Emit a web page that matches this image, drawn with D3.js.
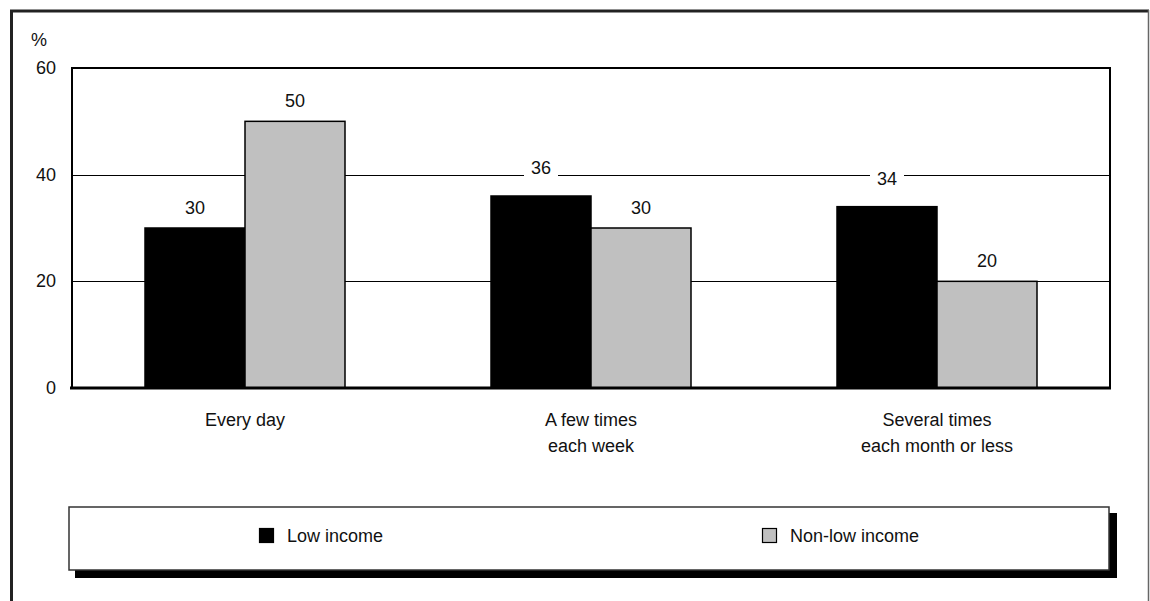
<!DOCTYPE html>
<html><head><meta charset="utf-8">
<script src="https://cdn.jsdelivr.net/npm/d3@7"></script>
<style>body{margin:0;background:#fff}svg{display:block}text{font-family:"Liberation Sans",Arial,sans-serif;fill:#111}</style>
</head><body><svg id="c" width="1150" height="601"></svg>
<script>
const categories = [["Every day"], ["A few times", "each week"], ["Several times", "each month or less"]];
const seriesNames = ["Low income", "Non-low income"];
const lowIncome = [30, 36, 34];
const nonLowIncome = [50, 30, 20];
const yTicks = [0, 20, 40, 60];
const colors = ["#000000", "#c0c0c0"];

const svg = d3.select("#c");
const W = 1150, H = 601;
const m = {l: 72, r: 1110, t: 68, b: 388};
const FS = "18px";

// outer frame
svg.append("line").attr("x1", 11.5).attr("x2", 11.5).attr("y1", 10).attr("y2", H).attr("stroke", "#222").attr("stroke-width", 3);
svg.append("line").attr("x1", 10).attr("x2", 1149).attr("y1", 11).attr("y2", 11).attr("stroke", "#222").attr("stroke-width", 3);
svg.append("line").attr("x1", 1148.5).attr("x2", 1148.5).attr("y1", 10).attr("y2", H).attr("stroke", "#666").attr("stroke-width", 1.5);

const x0 = d3.scaleBand().domain(d3.range(categories.length)).range([m.l, m.r]);
const x1 = d3.scaleBand().domain([0, 1]).range([0, 200]);
const y = d3.scaleLinear().domain([0, 60]).range([m.b, m.t]);
const gridVals = yTicks.filter(d => d > 0 && d < 60);

// gridlines
svg.append("g").selectAll("line").data(gridVals).join("line")
  .attr("x1", m.l).attr("x2", m.r).attr("y1", d => Math.round(y(d)) + 0.5).attr("y2", d => Math.round(y(d)) + 0.5)
  .attr("stroke", "#000").attr("stroke-width", 1);

// plot frame top/left/right
svg.append("path").attr("d", `M${m.l},${m.b}V${m.t}H${m.r}V${m.b}`).attr("fill", "none").attr("stroke", "#000").attr("stroke-width", 2);

// bars
const data = [lowIncome, nonLowIncome];
const groups = svg.append("g").selectAll("g").data(categories).join("g")
  .attr("transform", (d, i) => `translate(${x0(i) + x0.bandwidth() / 2 - 100},0)`);
groups.selectAll("rect").data((d, i) => data.map((s, k) => ({k, v: s[i]}))).join("rect")
  .attr("x", d => x1(d.k)).attr("width", x1.bandwidth())
  .attr("y", d => y(d.v)).attr("height", d => y(0) - y(d.v))
  .attr("fill", d => colors[d.k]).attr("stroke", "#000").attr("stroke-width", 1.5);

// value labels with white background
groups.each(function(c, i) {
  const g = d3.select(this);
  data.forEach((s, k) => {
    const cx = x1(k) + x1.bandwidth() / 2;
    let ty = y(s[i]) - 20;
    if (gridVals.some(gv => Math.abs(ty - y(gv)) < 14)) ty -= 8;
    g.append("rect").attr("x", cx - 17).attr("y", ty - 11).attr("width", 34).attr("height", 22).attr("fill", "#fff");
    g.append("text").attr("x", cx).attr("y", ty).attr("text-anchor", "middle").attr("dominant-baseline", "central")
      .style("font-size", FS).text(s[i]);
  });
});

// zero baseline
svg.append("line").attr("x1", m.l - 2).attr("x2", m.r + 1).attr("y1", y(0)).attr("y2", y(0)).attr("stroke", "#000").attr("stroke-width", 3);

// y axis labels
svg.append("g").selectAll("text").data(yTicks).join("text")
  .attr("x", 56).attr("y", d => y(d)).attr("text-anchor", "end").attr("dominant-baseline", "central")
  .style("font-size", FS).text(d => d);
svg.append("text").attr("x", 31).attr("y", 40).attr("dominant-baseline", "central").style("font-size", FS).text("%");

// category labels
svg.append("g").selectAll("text").data(categories).join("text")
  .attr("x", (d, i) => x0(i) + x0.bandwidth() / 2).attr("y", 420).attr("text-anchor", "middle")
  .style("font-size", FS)
  .each(function(d) {
    const cx = d3.select(this).attr("x");
    d3.select(this).selectAll("tspan").data(d).join("tspan")
      .attr("x", cx).attr("dy", (t, j) => j === 0 ? "0.35em" : "26px").text(t => t);
  });

// legend
const L = {x: 69, y: 507, w: 1040, h: 63};
svg.append("rect").attr("x", L.x + 6).attr("y", L.y + 6).attr("width", L.w + 2).attr("height", L.h + 2).attr("fill", "#000");
svg.append("rect").attr("x", L.x).attr("y", L.y).attr("width", L.w).attr("height", L.h).attr("fill", "#fff").attr("stroke", "#333").attr("stroke-width", 1.5);
const legX = [259, 762];
const lg = svg.append("g").selectAll("g").data(seriesNames).join("g").attr("transform", (d, i) => `translate(${legX[i]},528)`);
lg.append("rect").attr("x", 0.5).attr("y", 0.5).attr("width", 14).attr("height", 14).attr("fill", (d, i) => colors[i]).attr("stroke", "#000").attr("stroke-width", 1.2);
lg.append("text").attr("x", 28).attr("y", 8).attr("dominant-baseline", "central").style("font-size", FS).text(d => d);
</script></body></html>
